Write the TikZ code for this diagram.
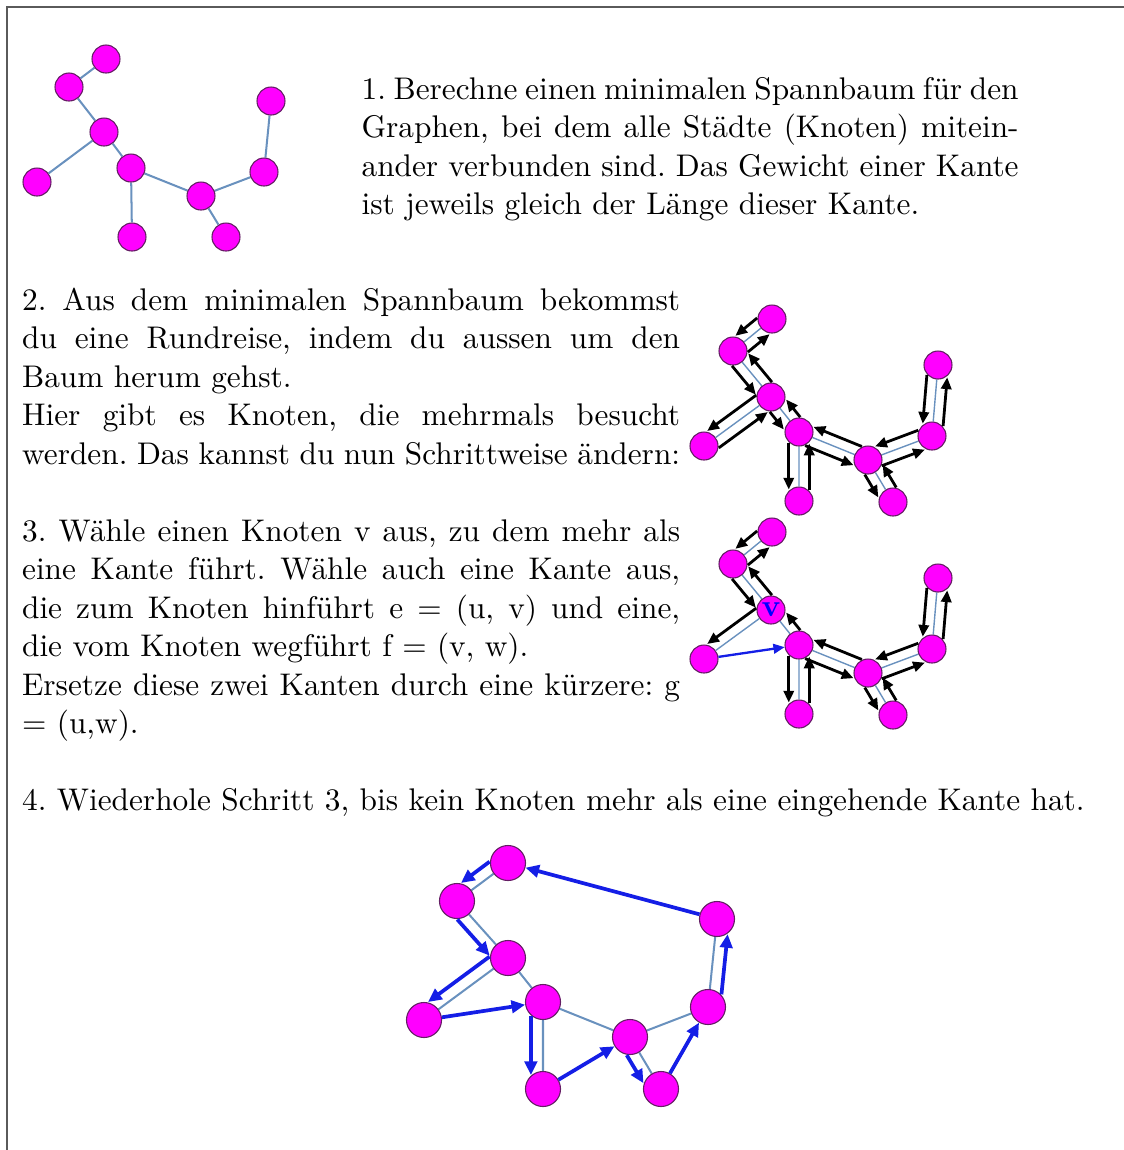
\documentclass[tikz,border=0pt]{standalone}
\usetikzlibrary{calc,arrows.meta,backgrounds}
\definecolor{nodefill}{RGB}{255,0,255}
\definecolor{nodeline}{RGB}{100,30,100}
\definecolor{edgecol}{RGB}{105,145,190}
\definecolor{tourblue}{RGB}{20,30,230}
\definecolor{framecol}{RGB}{90,90,90}
\newlength\pxu \setlength\pxu{0.3226pt}
\newcommand\jline[1]{\makebox[658\pxu][s]{#1}}
\newcommand\jlineA[1]{\makebox[657\pxu][s]{#1}}
\newcommand\sarr[4]{\draw[#1] ($(#2)!#4!-90:(#3)$) -- ($(#3)!#4!90:(#2)$);}
\frenchspacing
\begin{document}
\begin{tikzpicture}[x=0.3226pt,y=-0.3226pt,
  gnode/.style={circle,fill=nodefill,draw=nodeline,line width=0.35pt,minimum size=9.03pt,inner sep=0pt},
  bignode/.style={gnode,minimum size=11.3pt},
  treeedge/.style={draw=edgecol,line width=0.65pt},
  thinedge/.style={draw=edgecol,line width=0.45pt},
  blackarr/.style={draw=black,line width=0.9pt,-{Triangle[length=3.8pt,width=3.3pt]},shorten <=3.5pt,shorten >=3.7pt},
  vbluearr/.style={draw=tourblue,line width=0.75pt,-{Triangle[length=3.6pt,width=3.1pt]}},
  bluearr/.style={draw=tourblue,line width=1.2pt,-{Triangle[length=4.4pt,width=4pt]},shorten <=4.5pt,shorten >=4.5pt},
  blueshort/.style={draw=tourblue,line width=1.2pt,-{Triangle[length=4.4pt,width=4pt]}},
  txt/.style={anchor=base west,inner sep=0pt,font=\fontsize{10.1pt}{12.4pt}\selectfont}
]
\useasboundingbox (0,0) rectangle (1124,1150);
\draw[framecol,line width=0.45pt] (7,1150) -- (7,7) -- (1124,7);

% ---------- graph 1
\node[gnode] (a1) at (106,59) {};
\node[gnode] (a2) at (69,87) {};
\node[gnode] (a3) at (104,132) {};
\node[gnode] (a4) at (37,182) {};
\node[gnode] (a5) at (131,168) {};
\node[gnode] (a6) at (132,237) {};
\node[gnode] (a7) at (201,196) {};
\node[gnode] (a8) at (226,237) {};
\node[gnode] (a9) at (264,172) {};
\node[gnode] (a10) at (271,101) {};

% ---------- graph 2
\node[gnode] (b1) at (772,319) {};
\node[gnode] (b2) at (733,351) {};
\node[gnode] (b3) at (771,397) {};
\node[gnode] (b4) at (704,446) {};
\node[gnode] (b5) at (799,432) {};
\node[gnode] (b6) at (799,501) {};
\node[gnode] (b7) at (868,460) {};
\node[gnode] (b8) at (893,502) {};
\node[gnode] (b9) at (932,436) {};
\node[gnode] (b10) at (938,365) {};

% ---------- graph 3
\node[gnode] (c1) at (772,532) {};
\node[gnode] (c2) at (733,564) {};
\node[gnode,font=\bfseries,text=blue] (c3) at (771,610) {v};
\node[gnode] (c4) at (704,659) {};
\node[gnode] (c5) at (799,645) {};
\node[gnode] (c6) at (799,714) {};
\node[gnode] (c7) at (868,673) {};
\node[gnode] (c8) at (893,715) {};
\node[gnode] (c9) at (932,649) {};
\node[gnode] (c10) at (938,578) {};

% ---------- graph 4
\node[bignode] (d1) at (508,863) {};
\node[bignode] (d2) at (457,901) {};
\node[bignode] (d3) at (508,958) {};
\node[bignode] (d4) at (424,1020) {};
\node[bignode] (d5) at (543,1002) {};
\node[bignode] (d6) at (543,1089) {};
\node[bignode] (d7) at (630,1037) {};
\node[bignode] (d8) at (661,1089) {};
\node[bignode] (d9) at (708,1007) {};
\node[bignode] (d10) at (717,919) {};

\begin{scope}[on background layer]
  \draw[treeedge] (a1)--(a2) (a2)--(a3) (a3)--(a4) (a3)--(a5) (a5)--(a6) (a5)--(a7) (a7)--(a8) (a7)--(a9) (a9)--(a10);
  \draw[thinedge] (b1)--(b2) (b2)--(b3) (b3)--(b4) (b3)--(b5) (b5)--(b6) (b5)--(b7) (b7)--(b8) (b7)--(b9) (b9)--(b10);
  \draw[thinedge] (c1)--(c2) (c2)--(c3) (c3)--(c4) (c3)--(c5) (c5)--(c6) (c5)--(c7) (c7)--(c8) (c7)--(c9) (c9)--(c10);
  \draw[treeedge] (d1)--(d2) (d2)--(d3) (d3)--(d4) (d3)--(d5) (d5)--(d6) (d5)--(d7) (d7)--(d8) (d7)--(d9) (d9)--(d10);
\end{scope}

% tour arrows graph 2
\sarr{blackarr}{b1}{b2}{3.3pt}
\sarr{blackarr}{b2}{b3}{3.3pt}
\sarr{blackarr}{b3}{b4}{3.3pt}
\sarr{blackarr}{b4}{b3}{3.3pt}
\sarr{blackarr}{b3}{b5}{3.3pt}
\sarr{blackarr}{b5}{b6}{3.3pt}
\sarr{blackarr}{b6}{b5}{3.3pt}
\sarr{blackarr}{b5}{b7}{3.3pt}
\sarr{blackarr}{b7}{b8}{3.3pt}
\sarr{blackarr}{b8}{b7}{3.3pt}
\sarr{blackarr}{b7}{b9}{3.3pt}
\sarr{blackarr}{b9}{b10}{3.3pt}
\sarr{blackarr}{b10}{b9}{3.3pt}
\sarr{blackarr}{b9}{b7}{3.3pt}
\sarr{blackarr}{b7}{b5}{3.3pt}
\sarr{blackarr}{b5}{b3}{3.3pt}
\sarr{blackarr}{b3}{b2}{3.3pt}
\sarr{blackarr}{b2}{b1}{3.3pt}

% tour arrows graph 3
\sarr{blackarr}{c1}{c2}{3.3pt}
\sarr{blackarr}{c2}{c3}{3.3pt}
\sarr{blackarr}{c3}{c4}{3.3pt}
\draw[vbluearr] (c4) -- (c5);
\sarr{blackarr}{c5}{c6}{3.3pt}
\sarr{blackarr}{c6}{c5}{3.3pt}
\sarr{blackarr}{c5}{c7}{3.3pt}
\sarr{blackarr}{c7}{c8}{3.3pt}
\sarr{blackarr}{c8}{c7}{3.3pt}
\sarr{blackarr}{c7}{c9}{3.3pt}
\sarr{blackarr}{c9}{c10}{3.3pt}
\sarr{blackarr}{c10}{c9}{3.3pt}
\sarr{blackarr}{c9}{c7}{3.3pt}
\sarr{blackarr}{c7}{c5}{3.3pt}
\sarr{blackarr}{c5}{c3}{3.3pt}
\sarr{blackarr}{c3}{c2}{3.3pt}
\sarr{blackarr}{c2}{c1}{3.3pt}

% final tour graph 4
\sarr{bluearr}{d1}{d2}{3.9pt}
\sarr{bluearr}{d2}{d3}{3.9pt}
\sarr{bluearr}{d3}{d4}{3.9pt}
\draw[blueshort] (d4) -- (d5);
\sarr{bluearr}{d5}{d6}{3.9pt}
\draw[blueshort] (d6) -- (d7);
\sarr{bluearr}{d7}{d8}{3.9pt}
\draw[blueshort] (d8) -- (d9);
\sarr{bluearr}{d9}{d10}{3.9pt}
\draw[blueshort] (d10) -- (d1);

% ---------- texts
\node[txt] (t11) at (361,99) {\jlineA{1. Berechne einen minimalen Spannbaum für den}};
\node[txt] (t12) at (361,137.5) {\jlineA{Graphen, bei dem alle Städte (Knoten) mitein-}};
\node[txt] (t13) at (361,176) {\jlineA{ander verbunden sind. Das Gewicht einer Kante}};
\node[txt] (t14) at (361,214.5) {ist jeweils gleich der Länge dieser Kante.};

\node[txt] (t21) at (21.5,310) {\jline{2. Aus dem minimalen Spannbaum bekommst}};
\node[txt] (t22) at (21.5,348.5) {\jline{du eine Rundreise, indem du aussen um den}};
\node[txt] (t23) at (21.5,387) {Baum herum gehst.};
\node[txt] (t24) at (21.5,425.5) {\jline{Hier gibt es Knoten, die mehrmals besucht}};
\node[txt] (t25) at (21.5,464) {\jline{werden. Das kannst du nun Schrittweise ändern:}};

\node[txt] (t31) at (21.5,541) {\jline{3. Wähle einen Knoten v aus, zu dem mehr als}};
\node[txt] (t32) at (21.5,579.5) {\jline{eine Kante führt. Wähle auch eine Kante aus,}};
\node[txt] (t33) at (21.5,618) {\jline{die zum Knoten hinführt e = (u, v) und eine,}};
\node[txt] (t34) at (21.5,656.5) {die vom Knoten wegführt f = (v, w).};
\node[txt] (t35) at (21.5,695) {\jline{Ersetze diese zwei Kanten durch eine kürzere: g}};
\node[txt] (t36) at (21.5,733.5) {= (u,w).};

\node[txt] (t41) at (21.5,810.5) {4. Wiederhole Schritt 3, bis kein Knoten mehr als eine eingehende Kante hat.};
\end{tikzpicture}
\end{document}
